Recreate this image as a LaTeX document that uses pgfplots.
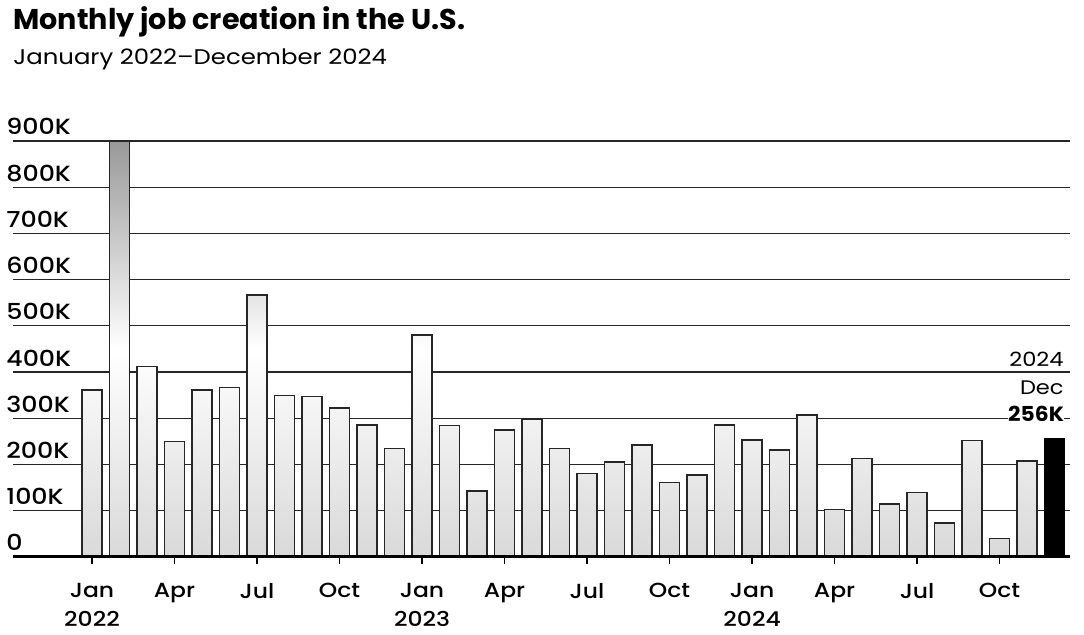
\documentclass[border=0pt]{standalone}
\usepackage{pgfplots}
\pgfplotsset{compat=1.18}
\usepackage{pgfplotstable}
\usepackage{fontspec}
\setmainfont{Poppins}
\newfontfamily\pw{Poppins}[FakeStretch=1.15, Ligatures=TeX]
\newfontfamily\pwm{Poppins Medium}[FakeStretch=1.15]
\newfontfamily\pwb{Poppins}[FakeStretch=1.06]

\pgfplotstableread{
x y
0 361
1 900
2 412
3 250
4 361
5 367
6 567
7 349
8 347
9 322
10 286
11 235
12 480
13 284
14 143
15 275
16 299
17 235
18 181
19 206
20 242
21 161
22 177
23 286
24 253
25 232
26 307
27 103
28 213
29 115
30 140
31 74
32 252
33 40
34 208
}\jobs

\pgfplotstableread{
x y
35 256
}\latest

\begin{document}
\begin{tikzpicture}
\useasboundingbox (-6.5pt,-39pt) rectangle (535.5pt,278.5pt);
\begin{axis}[
  at={(0,0)}, anchor=south west,
  width=528.5pt, height=208pt, scale only axis,
  xmin=-2.873, xmax=35.56, ymin=0, ymax=900,
  clip=false,
  axis line style={draw=none},
  ybar, bar width=10pt, bar shift=0pt,
  ymajorgrids, grid style={black!85, line width=0.6pt},
  ytick={0,100,...,900},
  yticklabels={0,100K,200K,300K,400K,500K,600K,700K,800K,900K},
  yticklabel style={anchor=base west, inner sep=0pt, xshift=0pt, yshift=3pt, font=\fontsize{11}{13}\pwm},
  ytick style={draw=none},
  xtick={0,3,...,33},
  xticklabels={{Jan\\2022},Apr,Jul,Oct,{Jan\\2023},Apr,Jul,Oct,{Jan\\2024},Apr,Jul,Oct},
  xticklabel style={align=center, anchor=north, yshift=-6pt, font=\fontsize{10.2}{14.5}\pwm},
  xtick pos=bottom, tick align=outside,
  major x tick style={black, line width=0.8pt},
  major tick length=3.5pt,
]
\addplot[draw=black!85, line width=0.75pt, top color=black!40, bottom color=black!15, middle color=white] table[x=x,y=y]{\jobs};
\addplot[draw=black, line width=0.75pt, fill=black] table[x=x,y=y]{\latest};
\draw[black, line width=1.5pt] (rel axis cs:0,0) -- (rel axis cs:1,0);
\end{axis}
\node[anchor=base west, inner sep=0pt, font=\fontsize{14.3}{17}\selectfont\bfseries] at (0pt,263.5pt) {Monthly job creation in the U.S.};
\node[anchor=base west, inner sep=0pt, font=\fontsize{10.6}{13}\pw] at (0pt,246pt) {January 2022–December 2024};
\node[anchor=base east, inner sep=0pt, font=\fontsize{9.8}{12}\pw] at (525.5pt,95pt) {2024};
\node[anchor=base east, inner sep=0pt, font=\fontsize{9.8}{12}\pw] at (525.5pt,81pt) {Dec};
\node[anchor=base east, inner sep=0pt, outer sep=0pt, fill=white, font=\fontsize{10.3}{12}\pwb\bfseries] at (525.5pt,67.65pt) {\strut 256K};
\end{tikzpicture}
\end{document}
